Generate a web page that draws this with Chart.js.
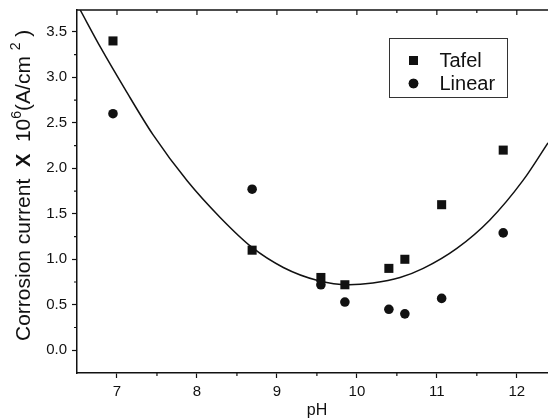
<!DOCTYPE html>
<html>
<head>
<meta charset="utf-8">
<script src="https://cdn.jsdelivr.net/npm/chart.js@4"></script>
<style>
  html, body { margin: 0; padding: 0; background: #fff; }
  #wrap { width: 548px; height: 418px; }
</style>
</head>
<body>
<div id="wrap"><canvas id="corrosionChart" width="548" height="418"></canvas></div>
<script>
/* ---------------------------------- Data ---------------------------------- */
const phValues = [6.95, 8.69, 9.55, 9.85, 10.4, 10.6, 11.06, 11.83];
const tafelValues = [3.40, 1.10, 0.80, 0.72, 0.90, 1.00, 1.60, 2.20];
const linearValues = [2.60, 1.77, 0.72, 0.53, 0.45, 0.40, 0.57, 1.29];

// fitted curve
const fitPh = [6.54, 6.8, 7.1, 7.45, 7.88, 8.29, 8.69, 9.08, 9.5, 9.9, 10.2, 10.54, 10.83, 11.25, 11.66, 12.08, 12.39];
const fitValues = [3.74, 3.32, 2.87, 2.37, 1.86, 1.46, 1.13, 0.91, 0.77, 0.72, 0.74, 0.80, 0.90, 1.12, 1.43, 1.87, 2.28];

const xMajorTicks = [7, 8, 9, 10, 11, 12];
const xMinorTicks = [7.5, 8.5, 9.5, 10.5, 11.5];
const yMajorTicks = [0, 0.5, 1, 1.5, 2, 2.5, 3, 3.5];
const yMinorTicks = [0.25, 0.75, 1.25, 1.75, 2.25, 2.75, 3.25];

const seriesLabels = ["Tafel", "Linear"];

const toPoints = (xs, ys) => xs.map((x, i) => ({ x: x, y: ys[i] }));

/* ------------------------------- Decorations ------------------------------ */
const INK = "#111";
const FONT = "'Liberation Sans', Arial, sans-serif";

const framePlugin = {
  id: "frame",
  afterDatasetsDraw(chart) {
    const { ctx, chartArea, scales } = chart;
    const { left, right, top, bottom } = chartArea;
    ctx.save();
    ctx.strokeStyle = INK;
    ctx.lineWidth = 1.5;

    // top border
    ctx.beginPath();
    ctx.moveTo(left, top);
    ctx.lineTo(right, top);
    ctx.stroke();

    ctx.lineWidth = 1.2;
    ctx.beginPath();
    // top ticks (inward)
    xMajorTicks.forEach((v) => {
      const px = scales.x.getPixelForValue(v);
      ctx.moveTo(px, top);
      ctx.lineTo(px, top + 5);
    });
    xMinorTicks.forEach((v) => {
      const px = scales.x.getPixelForValue(v);
      ctx.moveTo(px, top);
      ctx.lineTo(px, top + 3);
      // bottom minor ticks (outward)
      ctx.moveTo(px, bottom);
      ctx.lineTo(px, bottom + 3);
    });
    // left minor ticks (outward)
    yMinorTicks.forEach((v) => {
      const py = scales.y.getPixelForValue(v);
      ctx.moveTo(left, py);
      ctx.lineTo(left - 3, py);
    });
    ctx.stroke();
    ctx.restore();
  },
  afterDraw(chart) {
    const { ctx } = chart;
    ctx.save();
    ctx.fillStyle = INK;

    // x title
    ctx.font = "16px " + FONT;
    ctx.textAlign = "center";
    ctx.textBaseline = "alphabetic";
    ctx.fillText("pH", 317, 415);

    // y title, rotated, drawn in pieces for the bold X and superscripts
    ctx.translate(30, 341);
    ctx.rotate(-Math.PI / 2);
    ctx.textAlign = "left";
    let cx = 0;
    const piece = (text, font, dy) => {
      ctx.font = font;
      ctx.fillText(text, cx, dy || 0);
      cx += ctx.measureText(text).width;
    };
    const normal = "21px " + FONT;
    const small = "14px " + FONT;
    piece("Corrosion current  ", normal);
    piece("X", "bold 20px " + FONT);
    piece("  10", normal);
    piece("6", small, -9);
    piece("(A/cm ", normal);
    piece("2", small, -10);
    piece(" )", normal);
    ctx.restore();

    // legend box
    ctx.save();
    const bx = 389.5, by = 38.5, bw = 118, bh = 59;
    ctx.strokeStyle = "#333";
    ctx.lineWidth = 1;
    ctx.strokeRect(bx, by, bw, bh);
    ctx.fillStyle = INK;
    ctx.font = "20px " + FONT;
    ctx.textAlign = "left";
    ctx.textBaseline = "middle";
    chart.data.datasets.slice(0, 2).forEach((ds, i) => {
      const my = by + 22 + i * 23;
      Chart.helpers.drawPoint(ctx, {
        pointStyle: ds.pointStyle,
        radius: ds.pointRadius,
        borderWidth: 0,
      }, bx + 24, my);
      ctx.fill();
      ctx.fillText(ds.label, bx + 50, my + 1);
    });
    ctx.restore();
  },
};

/* ---------------------------------- Chart --------------------------------- */
const ctx = document.getElementById("corrosionChart").getContext("2d");

const chart = new Chart(ctx, {
  type: "scatter",
  data: {
    datasets: [
      {
        label: seriesLabels[0],
        data: toPoints(phValues, tafelValues),
        pointStyle: "rect",
        pointRadius: 6.4,
        backgroundColor: INK,
        borderColor: INK,
        borderWidth: 0,
      },
      {
        label: seriesLabels[1],
        data: toPoints(phValues, linearValues),
        pointStyle: "circle",
        pointRadius: 4.8,
        backgroundColor: INK,
        borderColor: INK,
        borderWidth: 0,
      },
      {
        label: "fit",
        type: "line",
        data: toPoints(fitPh, fitValues),
        showLine: true,
        pointRadius: 0,
        borderColor: INK,
        borderWidth: 1.5,
        cubicInterpolationMode: "monotone",
        fill: false,
        clip: 0,
      },
    ],
  },
  options: {
    responsive: false,
    animation: false,
    events: [],
    layout: {
      autoPadding: false,
      padding: { top: 10, right: 0, bottom: 0, left: 0 },
    },
    plugins: {
      legend: { display: false },
      tooltip: { enabled: false },
    },
    scales: {
      x: {
        type: "linear",
        min: 6.5,
        max: 12.39,
        afterBuildTicks: (scale) => {
          scale.ticks = xMajorTicks.map((v) => ({ value: v }));
        },
        afterFit: (scale) => {
          scale.height = 45;
          scale.paddingLeft = 0;
          scale.paddingRight = 0;
        },
        ticks: {
          color: INK,
          padding: 5,
          font: { family: FONT, size: 15 },
        },
        grid: {
          drawOnChartArea: false,
          drawTicks: true,
          tickLength: 5,
          tickColor: INK,
          tickWidth: 1.2,
        },
        border: { display: true, color: INK, width: 1.5 },
      },
      y: {
        type: "linear",
        min: -0.25,
        max: 3.74,
        afterBuildTicks: (scale) => {
          scale.ticks = yMajorTicks.map((v) => ({ value: v }));
        },
        afterFit: (scale) => {
          scale.width = 77;
          scale.paddingTop = 0;
          scale.paddingBottom = 0;
        },
        ticks: {
          color: INK,
          padding: 5,
          font: { family: FONT, size: 15 },
          callback: (v) => v.toFixed(1),
        },
        grid: {
          drawOnChartArea: false,
          drawTicks: true,
          tickLength: 5,
          tickColor: INK,
          tickWidth: 1.2,
        },
        border: { display: true, color: INK, width: 1.5 },
      },
    },
  },
  plugins: [framePlugin],
});
</script>
</body>
</html>
